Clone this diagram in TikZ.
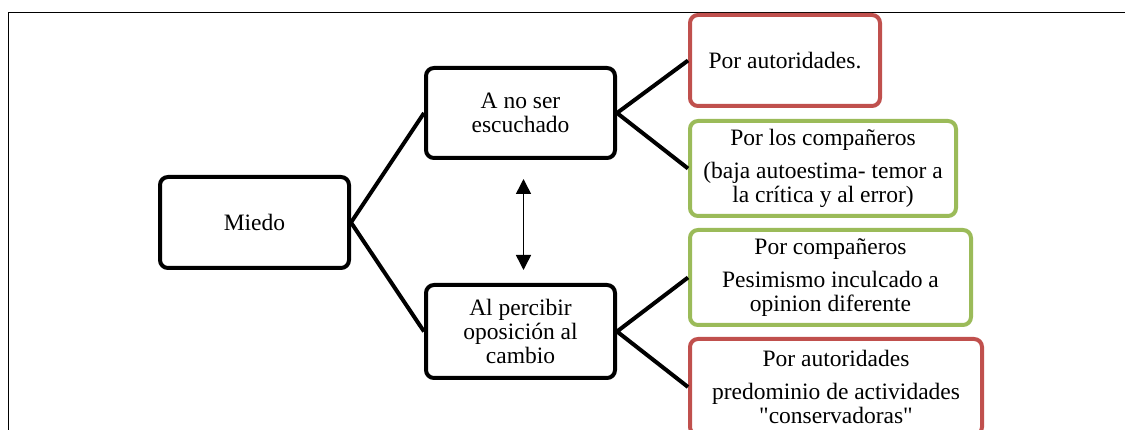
\documentclass[tikz,border=0pt]{standalone}
\usepackage{fontspec}
\setmainfont{Liberation Serif}
\usetikzlibrary{arrows.meta}
\definecolor{boxred}{RGB}{192,80,77}
\definecolor{boxgreen}{RGB}{155,187,89}
\begin{document}
\begin{tikzpicture}[x=1pt, y=-1pt,
   box/.style={draw, line width=4, rounded corners=8, align=center, inner sep=0,
      font=\fontsize{23.5}{24}\selectfont},
   link/.style={line width=4}]
   \useasboundingbox (0,0) rectangle (1125,430);
   \draw [line width=1.5] (8.5,430) -- (8.5,12.5) -- (1125,12.5);
   % left part
   \node (miedo) [box, minimum width=189, minimum height=91] at (254.5,222.5) {Miedo};
   \node (escuchado) [box, minimum width=189, minimum height=90] at (520.5,113) {A no ser\\escuchado};
   \node (oposicion) [box, minimum width=189, minimum height=93] at (520.5,331.5) {Al percibir\\oposición al\\cambio};
   % right part
   \node (autoridades1) [box, draw=boxred, minimum width=190, minimum height=91] at (785,60.5) {Por autoridades.};
   \node (companeros1) [box, draw=boxgreen, minimum width=266, minimum height=95] at (823,168.5)
      {Por los compañeros\\[9pt](baja autoestima- temor a\\la crítica y al error)};
   \node (companeros2) [box, draw=boxgreen, minimum width=281, minimum height=95] at (830.5,277.5)
      {Por compañeros\\[9pt]Pesimismo inculcado a\\opinion diferente};
   \node (autoridades2) [box, draw=boxred, minimum width=292, minimum height=96] at (836,387)
      {Por autoridades\\[9pt]predominio de actividades\\\textquotedbl conservadoras\textquotedbl};
   \draw [link] (escuchado.west) -- (miedo.east) -- (oposicion.west);
   \draw [link] (autoridades1.west) -- (escuchado.east) -- (companeros1.west);
   \draw [link] (companeros2.west) -- (oposicion.east) -- (autoridades2.west);
   \draw [line width=1.5, {Triangle[width=15,length=15]}-{Triangle[width=15,length=15]},
      shorten <=19, shorten >=13] ([xshift=3]escuchado.south) -- ([xshift=3]oposicion.north);
\end{tikzpicture}
\end{document}
